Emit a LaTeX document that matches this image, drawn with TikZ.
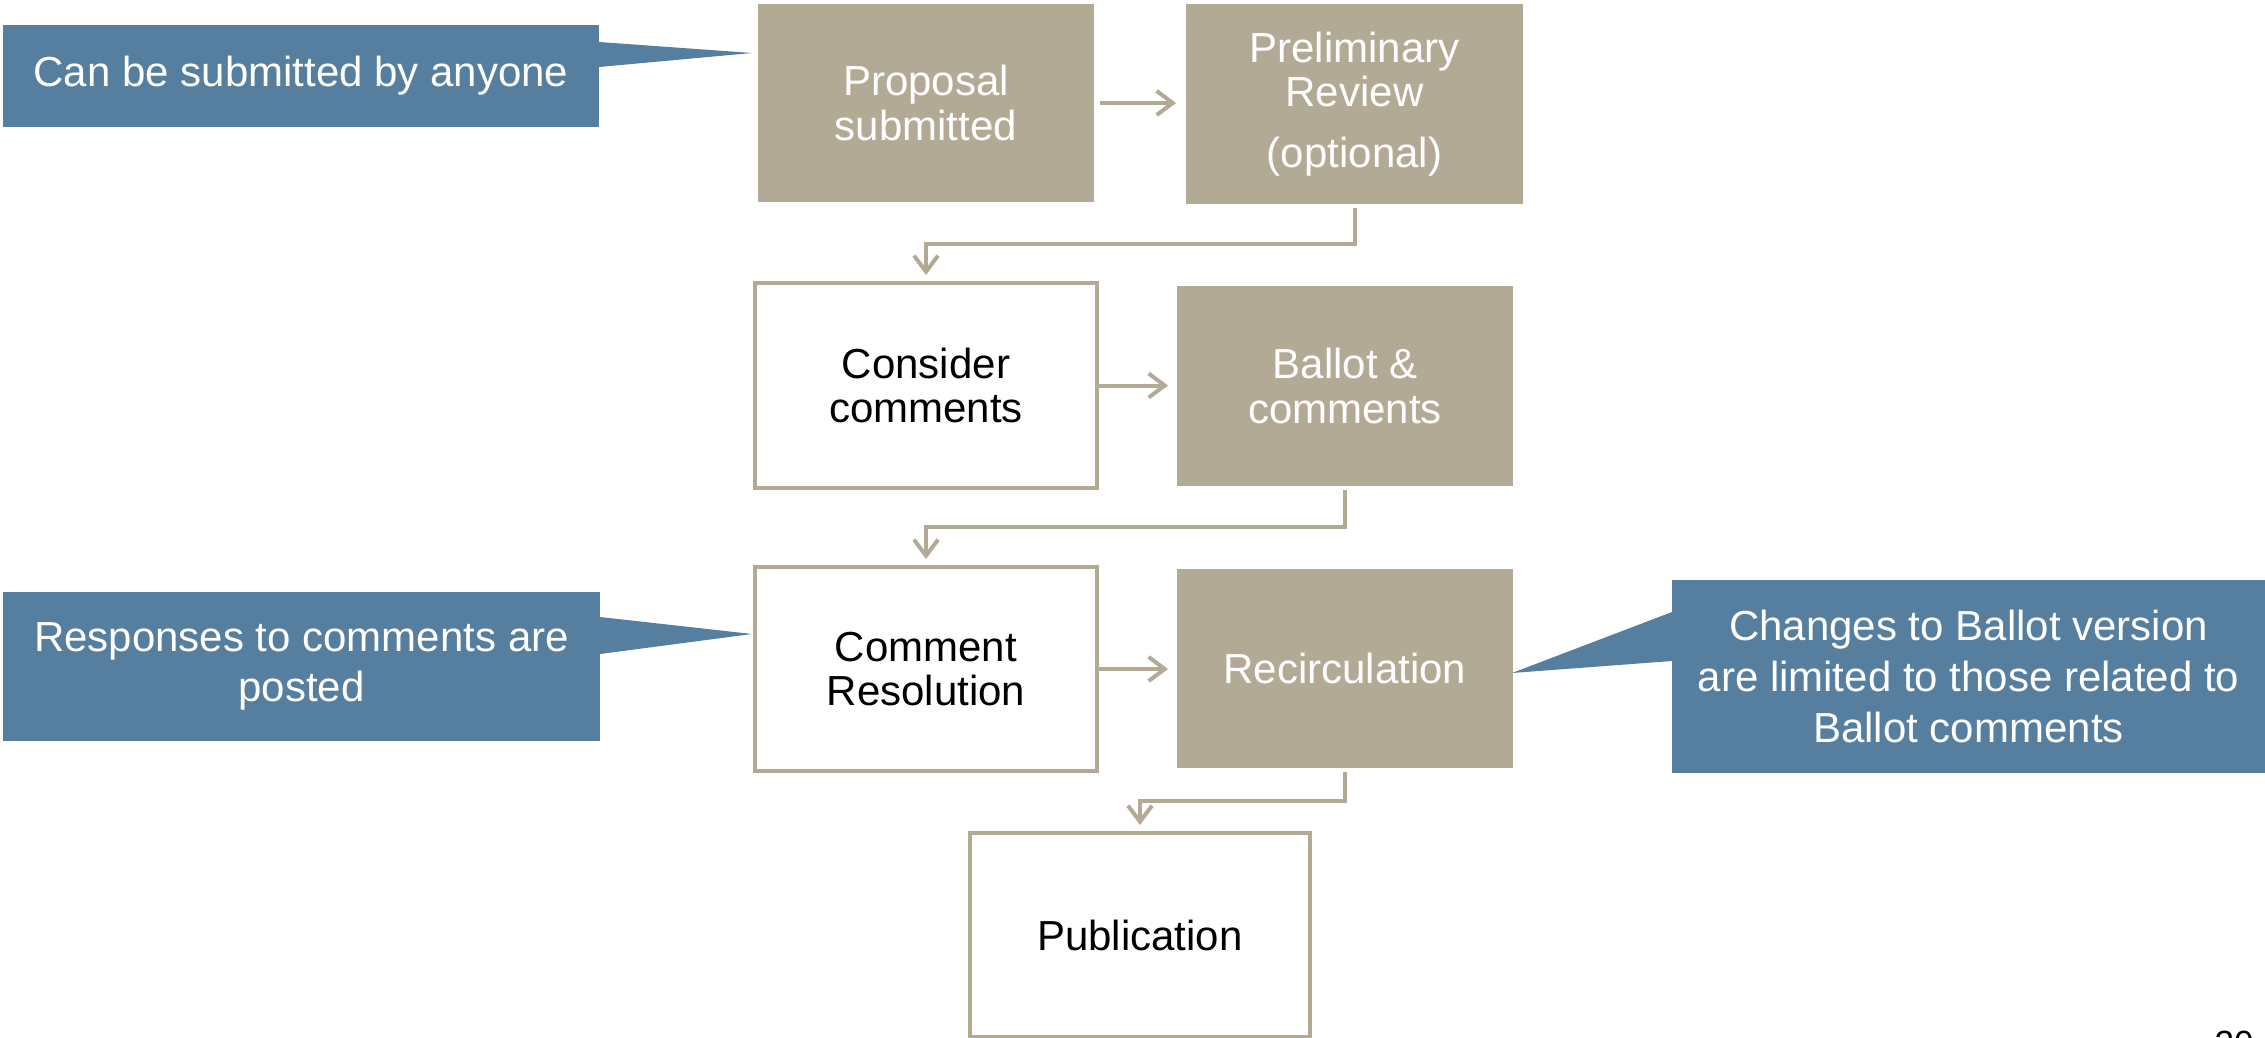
\documentclass[tikz,border=0pt]{standalone}
\usepackage{fontspec}
\setmainfont{Liberation Sans}
\usetikzlibrary{arrows.meta,calc}
\definecolor{tanc}{HTML}{B3AA96}
\definecolor{callblue}{HTML}{567E9F}
\begin{document}
\begin{tikzpicture}[x=0.5pt,y=-0.5pt,
  boxtxt/.style={align=center,inner sep=0pt,outer sep=0pt,font=\fontsize{21}{22.4}\selectfont},
  tanbox/.style={boxtxt,fill=tanc,text=white},
  whitebox/.style={boxtxt,draw=tanc,line width=2pt,fill=white,text=black},
  callout/.style={align=center,inner sep=0pt,outer sep=0pt,fill=callblue,text=white,font=\fontsize{21}{25.3}\selectfont},
  conn/.style={draw=tanc,line width=2pt,-{Straight Barb[length=8pt,width=12pt]}},
  pagenum/.style={anchor=base,inner sep=0pt,font=\fontsize{17.5}{20}\selectfont,text=black}]
\useasboundingbox (0,0) rectangle (2265,1038);
\clip (0,0) rectangle (2265,1038);

% process boxes
\node[tanbox,minimum width=168pt,minimum height=99pt] (prop) at (926,103) {Proposal\\submitted};
\node[tanbox,minimum width=168.5pt,minimum height=100pt] (prelim) at (1354.5,104) {Preliminary\\Review\\[8pt](optional)};
\node[whitebox,minimum width=171pt,minimum height=102.5pt] (consider) at (926,385.5) {Consider\\comments};
\node[tanbox,minimum width=168pt,minimum height=100pt] (ballot) at (1345,386) {Ballot \&\\comments};
\node[whitebox,minimum width=171pt,minimum height=102pt] (cres) at (926,669) {Comment\\Resolution};
\node[tanbox,minimum width=168pt,minimum height=99.5pt] (recirc) at (1345,668.5) {Recirculation};
\node[whitebox,minimum width=170pt,minimum height=102pt] (pub) at (1140,935) {Publication};

% callouts
\node[callout,minimum width=298pt,minimum height=51pt] (c1) at (301,76) {Can be submitted by anyone};
\node[callout,minimum width=298.5pt,minimum height=74.5pt] (c2) at (301.5,666.5) {Responses to comments are\\posted};
\node[callout,minimum width=296.5pt,minimum height=96.5pt] (c3) at (1968.5,676.5) {Changes to Ballot version\\are limited to those related to\\Ballot comments};
\coordinate (t1) at (752,53);
\coordinate (t2) at (752,634);
\coordinate (t3) at (1512,673);
\fill[callblue] ($(c1.east)+(0,-34)$) -- (t1) -- ($(c1.east)+(0,-9)$) -- cycle;
\fill[callblue] ($(c2.east)+(0,-49.5)$) -- (t2) -- ($(c2.east)+(0,-12.5)$) -- cycle;
\fill[callblue] ($(c3.west)+(0,-64.5)$) -- (t3) -- ($(c3.west)+(0,-15.5)$) -- cycle;

% connectors
\draw[conn,shorten <=3pt,shorten >=5pt] (prop.east) -- (prop.east -| prelim.west);
\draw[conn,shorten >=4.5pt] (consider.east) -- (consider.east -| ballot.west);
\draw[conn,shorten >=4.5pt] (cres.east) -- (cres.east -| recirc.west);

\coordinate (e1) at ($(prelim.south)!0.5!(consider.north)$);
\coordinate (e2) at ($(ballot.south)!0.5!(cres.north)$);
\coordinate (e3) at ($(recirc.south)!0.5!(pub.north)$);
\draw[conn,shorten <=2pt,shorten >=4pt] (prelim.south) |- (e1) -| (consider.north);
\draw[conn,shorten <=2pt,shorten >=4pt] (ballot.south) |- (e2) -| (cres.north);
\draw[conn,shorten <=2pt,shorten >=4pt] (recirc.south) |- (e3) -| (pub.north);

% slide number (clipped at the bottom edge, as in the reference)
\node[pagenum] (num) at (2234,1055) {20};
\end{tikzpicture}
\end{document}
